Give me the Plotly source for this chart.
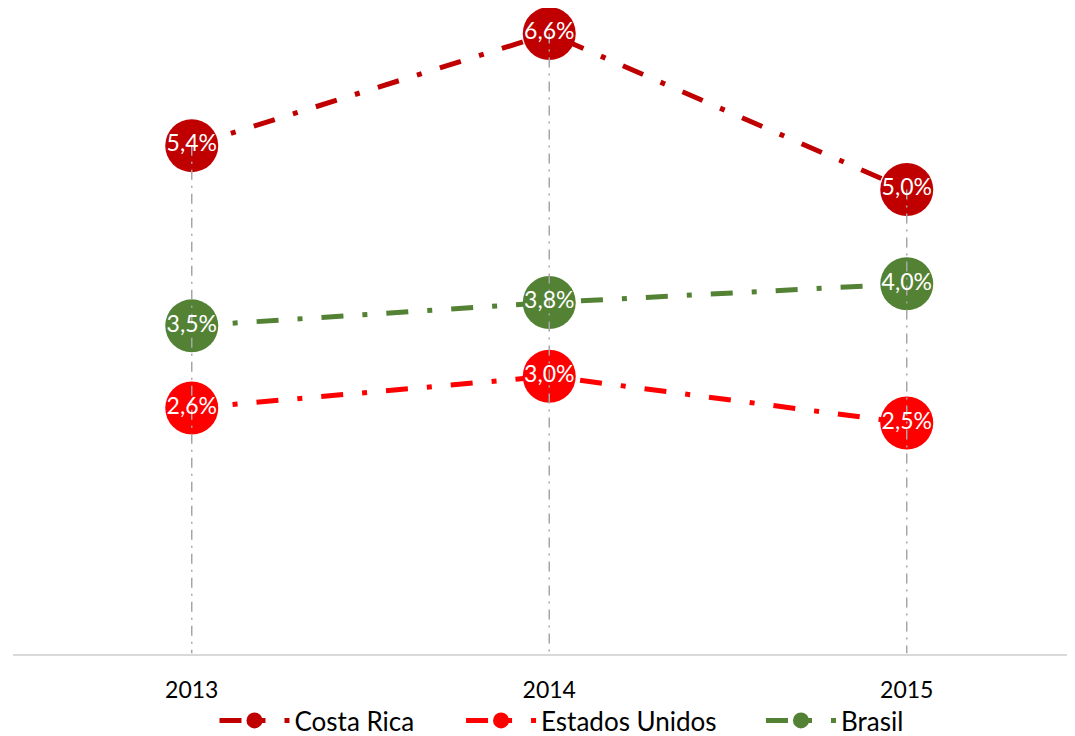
import plotly.graph_objects as go

years = ["2013", "2014", "2015"]
costa_rica = [5.44, 6.64, 4.97]
estados_unidos = [2.63, 2.97, 2.47]
brasil = [3.51, 3.76, 3.96]

series = [
    ("Costa Rica", costa_rica, "#C00000", "legend", 0.2841),
    ("Estados Unidos", estados_unidos, "#FF0000", "legend2", 0.5407),
    ("Brasil", brasil, "#548235", "legend3", 0.7682),
]

FONT = "Lato, 'Open Sans', sans-serif"

fig = go.Figure()

for name, vals, col, lg, _ in series:
    fig.add_trace(go.Scatter(
        x=years, y=vals, name=name, mode="lines+markers", legend=lg,
        line=dict(color=col, width=5, dash="22px,19px,5px,19px"),
        marker=dict(color=col, size=53),
        cliponaxis=False, hoverinfo="skip",
    ))

# drop lines from highest point of each category down to axis
tops = [max(v) for v in zip(costa_rica, estados_unidos, brasil)]
dx, dy = [], []
for yr, t in zip(years, tops):
    dx += [yr, yr, None]
    dy += [t, 0, None]
fig.add_trace(go.Scatter(
    x=dx, y=dy, mode="lines", showlegend=False,
    line=dict(color="#A6A6A6", width=1.5, dash="10px,6px,2px,6px"),
    hoverinfo="skip", cliponaxis=False,
))

for name, vals, col, lg, _ in series:
    fig.add_trace(go.Scatter(
        x=years, y=vals, mode="text", showlegend=False,
        text=vals, texttemplate="%{y:.1f}%", textposition="middle center",
        textfont=dict(color="white", size=23, family=FONT),
        cliponaxis=False, hoverinfo="skip",
    ))

legend_common = dict(orientation="h", xanchor="center", xref="paper",
                     y=0.03, yanchor="middle", yref="paper",
                     font=dict(size=26), tracegroupgap=0, itemwidth=70,
                     bgcolor="rgba(0,0,0,0)")

fig.update_layout(
    width=1075, height=736,
    margin=dict(l=5, r=0, t=0, b=0),
    paper_bgcolor="white", plot_bgcolor="white",
    separators=",.",
    font=dict(family=FONT, size=23, color="#000000"),
    showlegend=True,
    legend=dict(x=series[0][4], **legend_common),
    legend2=dict(x=series[1][4], **legend_common),
    legend3=dict(x=series[2][4], **legend_common),
    xaxis=dict(type="category", range=[-0.5, 2.493], showgrid=False, zeroline=False,
               showline=True, linecolor="#D9D9D9", linewidth=1.5, automargin=False,
               ticks="", tickfont=dict(size=23), ticklabelstandoff=15),
    yaxis=dict(range=[0, 6.914], domain=[0.1216, 1], visible=False,
               showgrid=False, zeroline=False, automargin=False),
)

fig.write_html("out.html")
